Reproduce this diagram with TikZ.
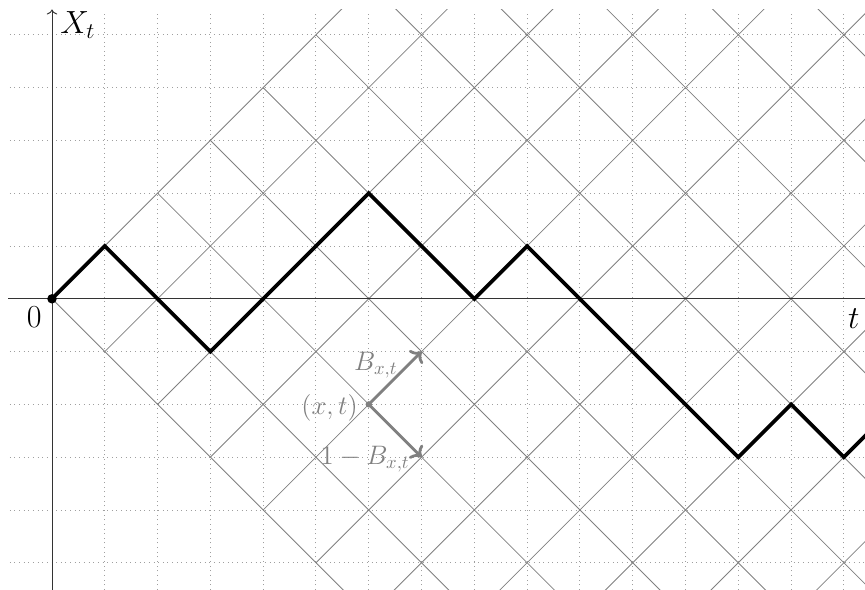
\documentclass[tikz,border=0pt]{standalone}
\usetikzlibrary{arrows.meta}
\tikzset{
  grd/.style={gray!75, dotted, line width=0.5pt},
  latt/.style={gray, line width=0.45pt},
  axis/.style={black!80, line width=0.5pt},
  walk/.style={line width=2pt, line join=miter},
  stp/.style={->, gray, line width=1.5pt},
  glab/.style={gray, inner sep=0pt, font=\Large},
  alab/.style={inner sep=0pt, font=\LARGE}
}

\begin{document}
\begin{tikzpicture}
\useasboundingbox (-0.985,-5.51) rectangle (15.40,5.66);
\begin{scope}
\clip (-0.985,-5.6) rectangle (15.40,5.48);
% dotted grid
\foreach \t in {1,...,15}
  \draw[grd] (\t,-5.6) -- (\t,5.43);
\foreach \x in {-5,...,5}
  \draw[grd] (-0.8,\x) -- (15.5,\x);
% lattice in the cone
\foreach \m in {0,...,16} {
  \draw[latt] (\m,-\m) -- ++(12,12);
  \draw[latt] (\m,\m) -- ++(12,-12);
}
% axes
\draw[axis] (-0.83,0) -- (15.6,0);
\end{scope}
\draw[axis,->] (0,-5.6) -- (0,5.48) coordinate (ytop);

% the walk
\begin{scope}
\clip (-0.985,-5.6) rectangle (15.40,5.48);
\draw[walk] (0,0) coordinate (o) -- (1,1) -- (3,-1) -- (6,2) -- (8,0) -- (9,1)
  -- (13,-3) -- (14,-2) -- (15,-3) -- (16,-2);
\end{scope}
\fill (o) circle (0.09);

% one step
\coordinate (xt) at (6,-2);
\coordinate (up) at (7,-1);
\coordinate (dn) at (7,-3);
\draw[stp] (xt) -- (up);
\draw[stp] (xt) -- (dn);
\fill[gray] (xt) circle (0.06);
\node[glab, anchor=base east] (bup) at (6.55,-1.36) {$B_{x,t}$};
\node[glab, anchor=east] (pt) at (5.8,-2.06) {$(x,t)$};
\node[glab, anchor=base east] (bdn) at (6.78,-3.14) {$1-B_{x,t}$};

% labels
\node[alab, anchor=north east] (zero) at (-0.19,-0.15) {$0$};
\node[alab, anchor=north east] (tlab) at (15.3,-0.19) {$t$};
\node[alab, anchor=north west] (xlab) at (0.15,5.45) {$X_t$};
\end{tikzpicture}
\end{document}
